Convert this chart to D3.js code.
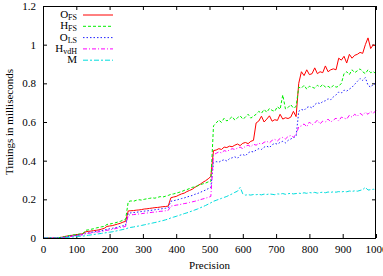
<!DOCTYPE html>
<html>
<head>
<meta charset="utf-8">
<script src="https://cdn.jsdelivr.net/npm/d3@7"></script>
<style>
  body { margin: 0; background: #fff; }
  text { font-family: "Liberation Serif", "DejaVu Serif", serif; fill: #000; }
</style>
</head>
<body>
<script>
// precision sampled every 8 (0 .. 1000)
var precision = d3.range(0, 1001, 8);

var oFS = [
  0, 0, 0, 0, 0, 0.001,
  0.002, 0.004, 0.007, 0.010, 0.012, 0.014, 0.016, 0.018, 0.020, 0.022,
  0.032, 0.034, 0.036, 0.038, 0.040, 0.042, 0.046, 0.050, 0.060, 0.062, 0.064, 0.068, 0.072, 0.076, 0.082, 0.086,
  0.140, 0.141, 0.142, 0.144, 0.145, 0.147, 0.150, 0.151, 0.153, 0.155, 0.157, 0.158, 0.160, 0.162, 0.163, 0.165,
  0.208, 0.212, 0.215, 0.222, 0.228, 0.232, 0.240, 0.246, 0.252, 0.262, 0.270, 0.278, 0.288, 0.296, 0.306, 0.318,
  0.452, 0.455, 0.462, 0.458, 0.470, 0.468, 0.475, 0.472, 0.480, 0.486, 0.478, 0.490, 0.494, 0.488, 0.500, 0.505,
  0.595, 0.605, 0.630, 0.600, 0.615, 0.632, 0.604, 0.612, 0.608, 0.640, 0.615, 0.622, 0.618, 0.625, 0.655, 0.628,
  0.800, 0.860, 0.840, 0.870, 0.845, 0.850, 0.880, 0.850, 0.860, 0.855, 0.890, 0.860, 0.870, 0.875, 0.870,
  0.930, 0.920, 0.940, 0.905, 0.950, 0.930, 0.945, 0.950, 0.960, 0.955, 1.000, 1.035, 0.980, 1.000, 0.990
];

var hFS = [
  0, 0, 0, 0, 0, 0.001,
  0.002, 0.004, 0.007, 0.010, 0.013, 0.015, 0.017, 0.019, 0.021, 0.023,
  0.040, 0.042, 0.045, 0.048, 0.052, 0.055, 0.058, 0.060, 0.070, 0.072, 0.075, 0.078, 0.082, 0.086, 0.092, 0.096,
  0.188, 0.192, 0.190, 0.195, 0.198, 0.196, 0.200, 0.203, 0.205, 0.208, 0.206, 0.210, 0.214, 0.212, 0.216, 0.220,
  0.226, 0.228, 0.232, 0.236, 0.240, 0.246, 0.250, 0.256, 0.262, 0.264, 0.270, 0.276, 0.280, 0.284, 0.290, 0.292,
  0.580, 0.595, 0.610, 0.598, 0.620, 0.605, 0.615, 0.628, 0.610, 0.622, 0.632, 0.615, 0.625, 0.640, 0.620, 0.630,
  0.640, 0.655, 0.645, 0.665, 0.650, 0.670, 0.660, 0.655, 0.680, 0.665, 0.740, 0.668, 0.675, 0.690, 0.672, 0.680,
  0.780, 0.775, 0.790, 0.770, 0.785, 0.780, 0.775, 0.790, 0.780, 0.795, 0.780, 0.785, 0.775, 0.790, 0.780,
  0.785, 0.800, 0.850, 0.860, 0.845, 0.870, 0.855, 0.865, 0.875, 0.860, 0.850, 0.870, 0.855, 0.860, 0.850
];

var oLS = [
  0, 0, 0, 0, 0, 0,
  0.001, 0.002, 0.004, 0.006, 0.008, 0.010, 0.012, 0.014, 0.016, 0.018,
  0.025, 0.027, 0.029, 0.031, 0.034, 0.036, 0.038, 0.041, 0.045, 0.048, 0.050, 0.053, 0.056, 0.060, 0.063, 0.066,
  0.128, 0.130, 0.132, 0.133, 0.135, 0.137, 0.139, 0.140, 0.142, 0.144, 0.146, 0.148, 0.150, 0.152, 0.154, 0.156,
  0.190, 0.193, 0.196, 0.200, 0.204, 0.207, 0.212, 0.216, 0.220, 0.226, 0.230, 0.236, 0.242, 0.248, 0.255, 0.262,
  0.390, 0.395, 0.392, 0.400, 0.405, 0.398, 0.410, 0.415, 0.420, 0.412, 0.428, 0.432, 0.425, 0.440, 0.448, 0.445,
  0.455, 0.462, 0.458, 0.470, 0.475, 0.468, 0.482, 0.490, 0.485, 0.495, 0.500, 0.492, 0.505, 0.512, 0.520, 0.525,
  0.655, 0.665, 0.660, 0.675, 0.680, 0.672, 0.690, 0.700, 0.695, 0.705, 0.710, 0.720, 0.715, 0.730, 0.740,
  0.755, 0.750, 0.765, 0.760, 0.770, 0.780, 0.795, 0.810, 0.825, 0.815, 0.830, 0.790, 0.780, 0.795, 0.800
];

var hVdH = [
  0, 0, 0, 0, 0, 0,
  0.001, 0.002, 0.003, 0.005, 0.007, 0.009, 0.011, 0.013, 0.015, 0.017,
  0.022, 0.024, 0.026, 0.028, 0.030, 0.032, 0.034, 0.036, 0.040, 0.042, 0.045, 0.048, 0.051, 0.054, 0.057, 0.060,
  0.118, 0.120, 0.121, 0.123, 0.124, 0.126, 0.128, 0.129, 0.131, 0.133, 0.134, 0.136, 0.138, 0.139, 0.141, 0.143,
  0.165, 0.167, 0.170, 0.172, 0.175, 0.178, 0.180, 0.184, 0.187, 0.190, 0.194, 0.198, 0.202, 0.206, 0.210, 0.215,
  0.430, 0.438, 0.445, 0.440, 0.452, 0.448, 0.455, 0.462, 0.458, 0.465, 0.470, 0.462, 0.475, 0.480, 0.472, 0.485,
  0.480, 0.490, 0.485, 0.495, 0.500, 0.492, 0.505, 0.510, 0.502, 0.515, 0.520, 0.512, 0.525, 0.530, 0.522, 0.535,
  0.575, 0.580, 0.590, 0.575, 0.600, 0.585, 0.595, 0.610, 0.590, 0.605, 0.600, 0.615, 0.600, 0.610, 0.620,
  0.605, 0.625, 0.620, 0.615, 0.635, 0.625, 0.640, 0.630, 0.645, 0.635, 0.650, 0.640, 0.655, 0.645, 0.660
];

var mVals = [
  0, 0, 0, 0, 0, 0,
  0, 0.001, 0.002, 0.003, 0.004, 0.005, 0.006, 0.008, 0.009, 0.010,
  0.012, 0.014, 0.016, 0.018, 0.020, 0.022, 0.024, 0.026, 0.028, 0.030, 0.032, 0.035, 0.038, 0.041, 0.044, 0.047,
  0.052, 0.055, 0.057, 0.060, 0.062, 0.065, 0.068, 0.071, 0.074, 0.077, 0.080, 0.083, 0.087, 0.090, 0.094, 0.098,
  0.104, 0.108, 0.112, 0.117, 0.121, 0.126, 0.130, 0.135, 0.140, 0.145, 0.150, 0.156, 0.162, 0.168, 0.175, 0.182,
  0.190, 0.195, 0.200, 0.205, 0.210, 0.215, 0.222, 0.228, 0.236, 0.242, 0.262, 0.228, 0.222, 0.224, 0.222, 0.225,
  0.224, 0.226, 0.223, 0.227, 0.225, 0.228, 0.226, 0.224, 0.228, 0.227, 0.230, 0.226, 0.229, 0.231, 0.228, 0.230,
  0.232, 0.230, 0.234, 0.231, 0.235, 0.233, 0.236, 0.232, 0.235, 0.237, 0.234, 0.238, 0.236, 0.239, 0.237,
  0.240, 0.238, 0.241, 0.239, 0.243, 0.241, 0.244, 0.242, 0.246, 0.250, 0.262, 0.248, 0.250, 0.252, 0.250
];

var xTicks = [0, 100, 200, 300, 400, 500, 600, 700, 800, 900, 1000];
var yTicks = [0, 0.2, 0.4, 0.6, 0.8, 1, 1.2];

var series = [
  { name: "O", sub: "FS", values: oFS, color: "#ff0000", dash: null },
  { name: "H", sub: "FS", values: hFS, color: "#00ee00", dash: "3,2" },
  { name: "O", sub: "LS", values: oLS, color: "#2020ff", dash: "1.5,2" },
  { name: "H", sub: "vdH", values: hVdH, color: "#ff00ff", dash: "4,2,1,2" },
  { name: "M", sub: "", values: mVals, color: "#00dddd", dash: "5,2,2,2" }
];

var width = 383, height = 276;
var margin = { top: 6, right: 7, bottom: 38, left: 43 };

var svg = d3.select("body")
  .append("svg")
  .attr("width", width)
  .attr("height", height);

svg.append("rect")
  .attr("width", width)
  .attr("height", height)
  .attr("fill", "#fff");

var x = d3.scaleLinear()
  .domain([0, 1000])
  .range([margin.left, width - margin.right]);

var y = d3.scaleLinear()
  .domain([0, 1.2])
  .range([height - margin.bottom, margin.top]);

var tick = 4;

// axes, ticks pointing inwards (gnuplot style, mirrored)
svg.append("g")
  .attr("transform", "translate(0," + (height - margin.bottom) + ")")
  .call(d3.axisBottom(x).tickValues(xTicks).tickSize(-tick).tickSizeOuter(0).tickPadding(7).tickFormat(d3.format("d")));

svg.append("g")
  .attr("transform", "translate(0," + margin.top + ")")
  .call(d3.axisTop(x).tickValues(xTicks).tickSize(-tick).tickSizeOuter(0).tickFormat(""));

svg.append("g")
  .attr("transform", "translate(" + margin.left + ",0)")
  .call(d3.axisLeft(y).tickValues(yTicks).tickSize(-tick).tickSizeOuter(0).tickPadding(7).tickFormat(d3.format("")));

svg.append("g")
  .attr("transform", "translate(" + (width - margin.right) + ",0)")
  .call(d3.axisRight(y).tickValues(yTicks).tickSize(-tick).tickSizeOuter(0).tickFormat(""));

svg.selectAll(".domain").remove();
svg.selectAll(".tick line").attr("stroke", "#000");
svg.selectAll(".tick text")
  .attr("font-family", "Liberation Serif")
  .attr("font-size", 11);

// lines
var line = d3.line()
  .x(function(d, i) { return x(precision[i]); })
  .y(function(d) { return y(d); });

svg.selectAll(".series")
  .data(series)
  .enter()
  .append("path")
  .attr("class", "series")
  .attr("d", function(d) { return line(d.values); })
  .attr("fill", "none")
  .attr("stroke", function(d) { return d.color; })
  .attr("stroke-width", 1)
  .attr("stroke-dasharray", function(d) { return d.dash; });

// border
svg.append("rect")
  .attr("x", margin.left + 0.5)
  .attr("y", margin.top + 0.5)
  .attr("width", width - margin.left - margin.right - 1)
  .attr("height", height - margin.top - margin.bottom)
  .attr("fill", "none")
  .attr("stroke", "#000")
  .attr("stroke-width", 1);

// legend
var legend = svg.selectAll(".legend")
  .data(series)
  .enter()
  .append("g")
  .attr("class", "legend")
  .attr("transform", function(d, i) { return "translate(0," + (15 + i * 11.3) + ")"; });

var lt = legend.append("text")
  .attr("x", 77)
  .attr("y", 3)
  .attr("text-anchor", "end")
  .attr("font-size", 11);
lt.append("tspan").text(function(d) { return d.name; });
lt.append("tspan")
  .attr("font-size", 8)
  .attr("dy", 2)
  .text(function(d) { return d.sub; });

legend.append("line")
  .attr("x1", 83)
  .attr("x2", 113)
  .attr("stroke", function(d) { return d.color; })
  .attr("stroke-width", 1)
  .attr("stroke-dasharray", function(d) { return d.dash; });

// axis titles
svg.append("text")
  .attr("x", (margin.left + width - margin.right) / 2)
  .attr("y", 269)
  .attr("text-anchor", "middle")
  .attr("font-size", 11)
  .text("Precision");

svg.append("text")
  .attr("transform", "translate(13," + ((margin.top + height - margin.bottom) / 2) + ") rotate(-90)")
  .attr("text-anchor", "middle")
  .attr("font-size", 11)
  .text("Timings in milliseconds");
</script>
</body>
</html>
